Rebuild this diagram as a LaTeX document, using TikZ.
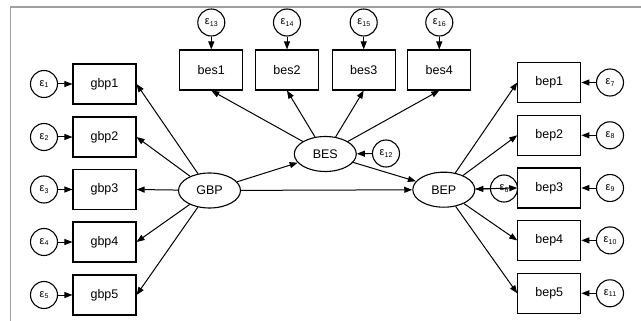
\documentclass[tikz,border=0pt]{standalone}
\usepackage{fontspec}
\setmainfont{Liberation Sans}
\usetikzlibrary{arrows.meta,shapes.geometric}
\newcommand{\epsl}[1]{{\fontsize{11}{11}\selectfont ε}\kern0.2pt\raisebox{-1.4pt}{\fontsize{7}{7}\selectfont #1}}
\begin{document}
\begin{tikzpicture}[x=1pt,y=-1pt,
  obs/.style={draw, line width=1.1pt, minimum width=63pt, minimum height=40pt, inner sep=0pt, font=\fontsize{12.5}{12.5}\selectfont},
  lat/.style={draw, ellipse, line width=1.1pt, minimum width=62pt, minimum height=35pt, inner sep=0pt, font=\fontsize{12.5}{12.5}\selectfont},
  err/.style={draw, circle, line width=1.1pt, minimum size=27pt, inner sep=0pt},
  pth/.style={-{Triangle[length=8pt,width=6pt]}, line width=1pt}]
\useasboundingbox (0,0) rectangle (641,321);
\draw[gray!75, line width=1.5pt] (10.5,321) -- (10.5,7) -- (641,7);
% left indicators
\foreach \i/\y/\e in {1/84/1,2/137/2,3/189.5/3,4/242/4,5/295/5}{
  \node[obs] (gbp\i) at (104.5,\y) {gbp\i};
  \node[err] (e\e) at (44,\y) {\epsl{\e}};
}
% top indicators
\foreach \i/\x/\e in {1/211.3/13,2/287/14,3/363.7/15,4/439.3/16}{
  \node[obs] (bes\i) at (\x,70) {bes\i};
  \node[err] (e\e) at (\x,22.5) {\epsl{\e}};
}
% right indicators
\foreach \i/\y/\e in {1/82.5/7,2/135.3/8,3/188/9,4/240.4/10,5/293.3/11}{
  \node[obs] (bep\i) at (549.3,\y) {bep\i};
  \node[err] (e\e) at (610,\y) {\epsl{\e}};
}
\node[lat] (GBP) at (209.5,190.5) {GBP};
\node[lat] (BES) at (325.3,154) {BES};
\node[lat] (BEP) at (443.8,189.7) {BEP};
\node[err] (e12) at (386,153.5) {\epsl{12}};
\node[err] (e6) at (504,188.5) {\epsl{6}};
% error paths
\foreach \i/\e in {1/1,2/2,3/3,4/4,5/5}{ \draw[pth] (e\e) -- (gbp\i); }
\foreach \i/\e in {1/13,2/14,3/15,4/16}{ \draw[pth] (e\e) -- (bes\i); }
\foreach \i/\e in {1/7,2/8,3/9,4/10,5/11}{ \draw[pth] (e\e) -- (bep\i); }
\draw[pth] (e12) -- (BES);
\draw[pth] (e6) -- (BEP);
% loadings
\foreach \i in {1,...,5}{ \draw[pth] (GBP) -- (gbp\i.east); }
\foreach \i in {1,...,4}{ \draw[pth] (BES) -- (bes\i.south); }
\foreach \i in {1,...,5}{ \draw[pth] (BEP) -- (bep\i.west); }
% structural
\draw[pth] (GBP) -- (BES);
\draw[pth] (GBP) -- (BEP);
\draw[pth] (BES) -- (BEP);
\end{tikzpicture}
\end{document}
